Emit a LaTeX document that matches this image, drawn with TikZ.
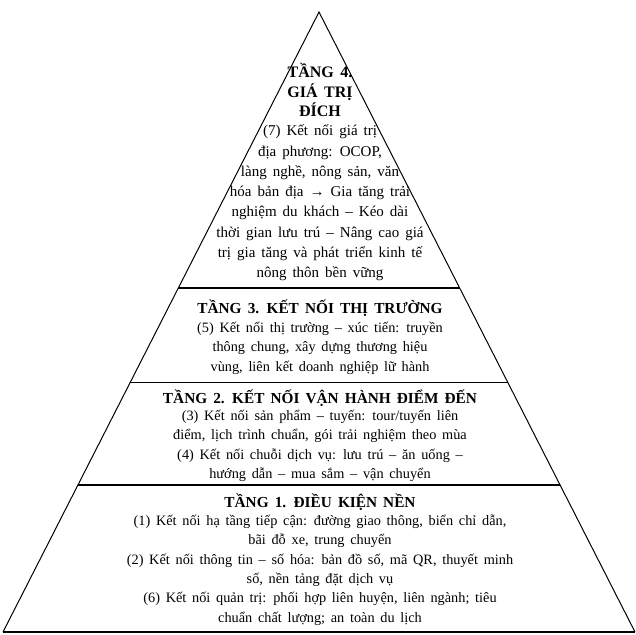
\documentclass[tikz,border=0pt]{standalone}
\usepackage{fontspec}
\setmainfont[WordSpace=1.6]{Liberation Serif}
\usetikzlibrary{calc}
\tikzset{every node/.style={align=center, inner sep=0pt},
         tiertitle/.style={font=\bfseries\fontsize{15.3}{20}\selectfont},
         tiertext/.style={font=\fontsize{14.3}{19.4}\selectfont},
         side/.style={line width=1pt},
         sep/.style={line width=1.2pt}}

\begin{document}
\begin{tikzpicture}[x=1pt, y=-1pt]
    \useasboundingbox (0,0) rectangle (636,634);
    \coordinate (apex) at (319,12);
    \coordinate (bl) at (3,632);
    \coordinate (br) at (635,632);
    \draw[side] (bl) -- (apex) -- (br);
    \draw[line width=2pt] (bl) -- (br);
    \draw[line width=2pt] ($(apex)!0.445!(bl)$) -- ($(apex)!0.445!(br)$);
    \draw[sep] ($(apex)!0.597!(bl)$) -- ($(apex)!0.597!(br)$);
    \draw[sep] ($(apex)!0.763!(bl)$) -- ($(apex)!0.763!(br)$);

    \node[tiertitle, font=\bfseries\fontsize{16}{19.5}\selectfont] (T4) at (320,90)
        {TẦNG 4.\\ GIÁ TRỊ\\ ĐÍCH};
    \node[tiertext, font=\fontsize{15}{20.3}\selectfont] (T4txt) at (320,203)
        {(7) Kết nối giá trị\\ địa phương: OCOP,\\ làng nghề, nông sản, văn\\
         hóa bản địa → Gia tăng trải\\ nghiệm du khách – Kéo dài\\
         thời gian lưu trú – Nâng cao giá\\ trị gia tăng và phát triển kinh tế\\
         nông thôn bền vững};

    \node[tiertitle] (T3) at (320,308) {TẦNG 3. KẾT NỐI THỊ TRƯỜNG};
    \node[tiertext] (T3txt) at (320,348)
        {(5) Kết nối thị trường – xúc tiến: truyền\\ thông chung, xây dựng thương hiệu\\
         vùng, liên kết doanh nghiệp lữ hành};

    \node[tiertitle] (T2) at (320,398) {TẦNG 2. KẾT NỐI VẬN HÀNH ĐIỂM ĐẾN};
    \node[tiertext] (T2txt) at (320,446)
        {(3) Kết nối sản phẩm – tuyến: tour/tuyến liên\\
         điểm, lịch trình chuẩn, gói trải nghiệm theo mùa\\
         (4) Kết nối chuỗi dịch vụ: lưu trú – ăn uống –\\
         hướng dẫn – mua sắm – vận chuyển};

    \node[tiertitle] (T1) at (320,502) {TẦNG 1. ĐIỀU KIỆN NỀN};
    \node[tiertext] (T1txt) at (320,570)
        {(1) Kết nối hạ tầng tiếp cận: đường giao thông, biển chỉ dẫn,\\
         bãi đỗ xe, trung chuyển\\
         (2) Kết nối thông tin – số hóa: bản đồ số, mã QR, thuyết minh\\
         số, nền tảng đặt dịch vụ\\
         (6) Kết nối quản trị: phối hợp liên huyện, liên ngành; tiêu\\
         chuẩn chất lượng; an toàn du lịch};
\end{tikzpicture}
\end{document}
